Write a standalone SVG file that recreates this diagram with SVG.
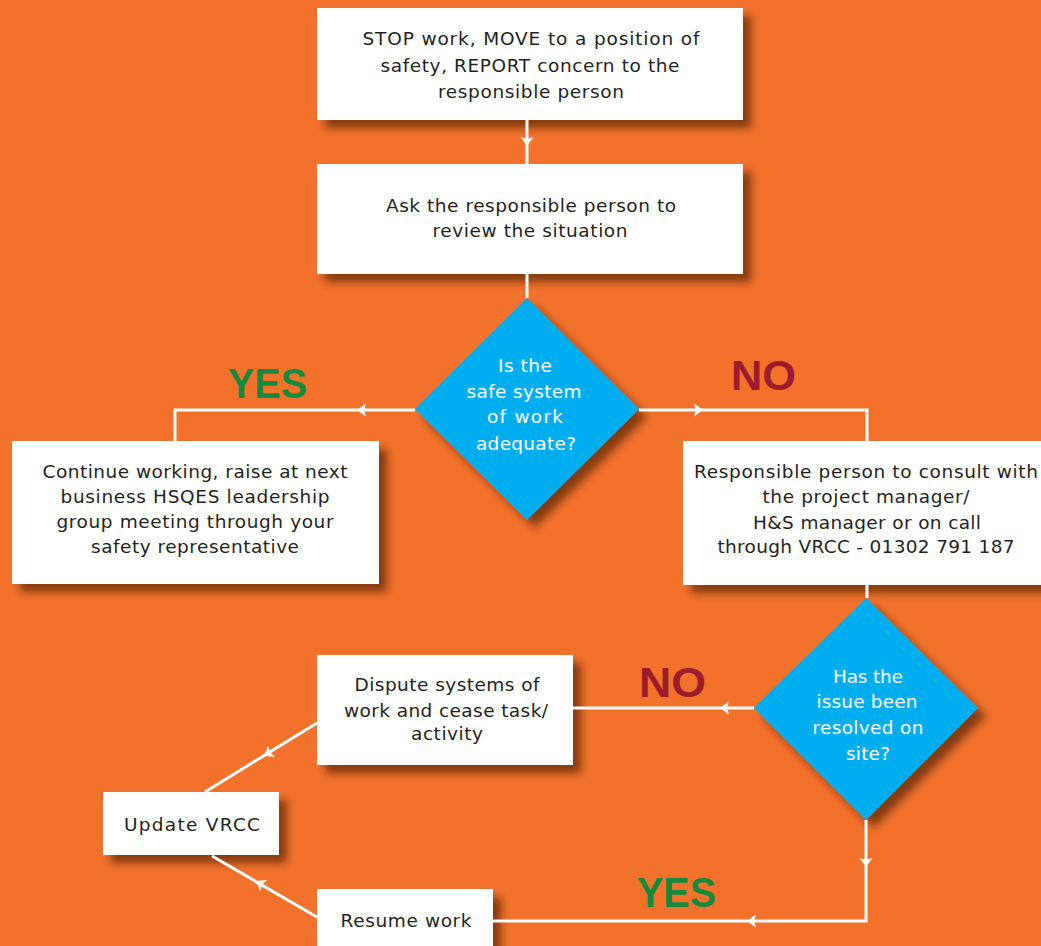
<svg xmlns="http://www.w3.org/2000/svg" xmlns:xlink="http://www.w3.org/1999/xlink" width="1041" height="946" viewBox="0 0 1041 946">
<defs>
<filter id="sh" x="-20%" y="-20%" width="150%" height="150%">
<feDropShadow dx="8" dy="8" stdDeviation="4.5" flood-color="#4a1d05" flood-opacity="0.65"/>
</filter>
<path id="ah" d="M0,0 L-9,-6.5 L-7,0 L-9,6.5 Z" fill="#ffffff"/>
</defs>
<style>
.box{fill:#ffffff;filter:url(#sh);}
.dia{fill:#00aeef;filter:url(#sh);}
.t{font-family:"DejaVu Sans",Verdana,sans-serif;font-size:18.5px;fill:#231f20;text-anchor:middle;}
.tw{font-family:"DejaVu Sans",Verdana,sans-serif;font-size:18.5px;fill:#ffffff;text-anchor:middle;}
.yes{font-family:"Liberation Sans",Arial,sans-serif;font-weight:bold;font-size:43px;fill:#138a3e;}
.no{font-family:"Liberation Sans",Arial,sans-serif;font-weight:bold;font-size:43px;fill:#9d1c2b;}
.c{fill:none;stroke:#ffffff;stroke-width:3;}
</style>
<rect x="0" y="0" width="1041" height="946" fill="#f2722c"/>

<g id="n-stop">
<rect class="box" x="317" y="8" width="426" height="112"/>
<text class="t"><tspan x="531" y="45" textLength="337" lengthAdjust="spacing">STOP work, MOVE to a position of</tspan><tspan x="530" y="72" textLength="299" lengthAdjust="spacing">safety, REPORT concern to the</tspan><tspan x="531" y="98" textLength="186" lengthAdjust="spacing">responsible person</tspan></text>
</g>

<g id="n-ask">
<rect class="box" x="317" y="164" width="426" height="110"/>
<text class="t"><tspan x="531" y="212" textLength="290" lengthAdjust="spacing">Ask the responsible person to</tspan><tspan x="530" y="237" textLength="195" lengthAdjust="spacing">review the situation</tspan></text>
</g>

<g id="n-safe">
<polygon class="dia" points="527,298 639,409 527,520 415,409"/>
<text class="tw"><tspan x="525" y="372" textLength="54" lengthAdjust="spacing">Is the</tspan><tspan x="524" y="398" textLength="115" lengthAdjust="spacing">safe system</tspan><tspan x="525" y="423" textLength="76" lengthAdjust="spacing">of work</tspan><tspan x="526" y="450" textLength="100" lengthAdjust="spacing">adequate?</tspan></text>
</g>

<g id="n-continue">
<rect class="box" x="12" y="441" width="367" height="143"/>
<text class="t"><tspan x="195" y="478" textLength="305" lengthAdjust="spacing">Continue working, raise at next</tspan><tspan x="195" y="503" textLength="269" lengthAdjust="spacing">business HSQES leadership</tspan><tspan x="195" y="528" textLength="277" lengthAdjust="spacing">group meeting through your</tspan><tspan x="195" y="553" textLength="208" lengthAdjust="spacing">safety representative</tspan></text>
</g>

<g id="n-consult">
<rect class="box" x="683" y="441" width="380" height="144"/>
<text class="t"><tspan x="866" y="478" textLength="344" lengthAdjust="spacing">Responsible person to consult with</tspan><tspan x="866" y="503" textLength="207" lengthAdjust="spacing">the project manager/</tspan><tspan x="867" y="529" textLength="228" lengthAdjust="spacing">H&amp;S manager or on call</tspan><tspan x="866" y="553" textLength="297" lengthAdjust="spacing">through VRCC - 01302 791 187</tspan></text>
</g>

<g id="n-resolved">
<polygon class="dia" points="866,598 978,708 866,820 754,708"/>
<text class="tw"><tspan x="868" y="683" textLength="70" lengthAdjust="spacing">Has the</tspan><tspan x="867" y="708" textLength="101" lengthAdjust="spacing">issue been</tspan><tspan x="868" y="734" textLength="111" lengthAdjust="spacing">resolved on</tspan><tspan x="868" y="760" textLength="44" lengthAdjust="spacing">site?</tspan></text>
</g>

<g id="n-dispute">
<rect class="box" x="317" y="655" width="256" height="110"/>
<text class="t"><tspan x="447" y="691" textLength="185" lengthAdjust="spacing">Dispute systems of</tspan><tspan x="446" y="717" textLength="204" lengthAdjust="spacing">work and cease task/</tspan><tspan x="447" y="740" textLength="72" lengthAdjust="spacing">activity</tspan></text>
</g>

<g id="n-update">
<rect class="box" x="103" y="792" width="176" height="63"/>
<text class="t"><tspan x="192" y="831" textLength="136" lengthAdjust="spacing">Update VRCC</tspan></text>
</g>

<g id="n-resume">
<rect class="box" x="317" y="889" width="176" height="80"/>
<text class="t"><tspan x="406" y="927" textLength="131" lengthAdjust="spacing">Resume work</tspan></text>
</g>

<g id="labels">
<text class="yes" x="228" y="398" textLength="79" lengthAdjust="spacingAndGlyphs">YES</text>
<text class="no" x="731" y="390" textLength="65" lengthAdjust="spacingAndGlyphs">NO</text>
<text class="no" x="639" y="697" textLength="67" lengthAdjust="spacingAndGlyphs">NO</text>
<text class="yes" x="637" y="907" textLength="79" lengthAdjust="spacingAndGlyphs">YES</text>
</g>

<g id="connectors">
<path class="c" d="M527,120 V164"/>
<path class="c" d="M527,274 V298"/>
<path class="c" d="M415,410 H175 V441"/>
<path class="c" d="M639,410 H867 V441"/>
<path class="c" d="M867,585 V598"/>
<path class="c" d="M754,708 H573"/>
<path class="c" d="M866,820 V921 H493"/>
<path class="c" d="M317,723 L205,792"/>
<path class="c" d="M317,917 L212,856"/>
<use xlink:href="#ah" transform="translate(527,146) rotate(90)"/>
<use xlink:href="#ah" transform="translate(357,410) rotate(180)"/>
<use xlink:href="#ah" transform="translate(703,410)"/>
<use xlink:href="#ah" transform="translate(720,708) rotate(180)"/>
<use xlink:href="#ah" transform="translate(866,867) rotate(90)"/>
<use xlink:href="#ah" transform="translate(747,921) rotate(180)"/>
<use xlink:href="#ah" transform="translate(264,756) rotate(148.4)"/>
<use xlink:href="#ah" transform="translate(256,881) rotate(210.6)"/>
</g>
</svg>
